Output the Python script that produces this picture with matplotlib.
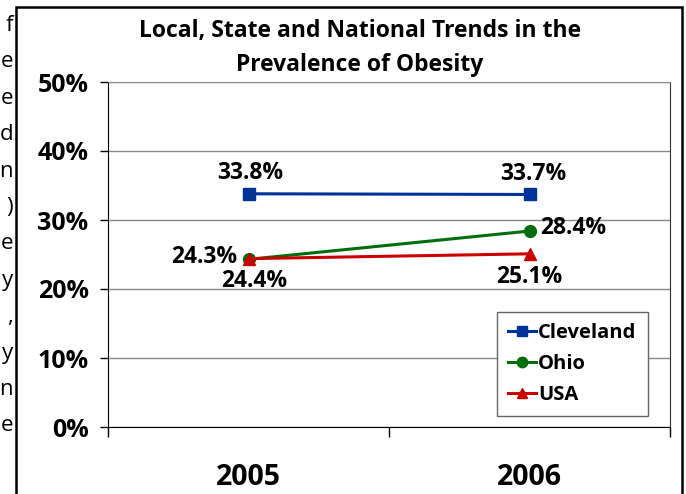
import matplotlib
matplotlib.use("Agg")
import matplotlib.pyplot as plt
from matplotlib.patches import Rectangle
from matplotlib.ticker import FixedLocator

plt.rcParams['font.family'] = ['Open Sans', 'DejaVu Sans']

# data
years = ["2005", "2006"]
cleveland = [33.8, 33.7]
ohio = [24.3, 28.4]
usa = [24.4, 25.1]
y_ticks = [0, 10, 20, 30, 40, 50]
y_tick_labels = ["0%", "10%", "20%", "30%", "40%", "50%"]
# letters of the cropped page text left of the chart
margin_letters = ["f", "e", "e", "d", "n", ")", "e", "y", ",", "y", "n", "e"]

W, H = 686, 494
fig = plt.figure(figsize=(W / 100, H / 100), dpi=100)

# outer frame of the embedded chart
fig.patches.append(Rectangle((16 / W, -0.05), (682 - 16) / W, 1.05 - 7 / H,
                             transform=fig.transFigure, fill=False,
                             edgecolor="black", linewidth=1.8))
for i, ch in enumerate(margin_letters):
    fig.text(13 / W, 1 - (31 + 36.4 * i) / H, ch, ha="right", va="baseline",
             fontsize=16, color="black")

fig.text(360 / W, 1 - 48 / H,
         "Local, State and National Trends in the\nPrevalence of Obesity",
         ha="center", va="center", fontsize=16.5, fontweight="bold",
         linespacing=1.6)

ax = fig.add_axes([108 / W, 1 - 427 / H, (670 - 108) / W, (427 - 82) / H])
x = [1, 2]
series = [
    ("Cleveland", cleveland, "#003399", "s"),
    ("Ohio", ohio, "#006E0A", "o"),
    ("USA", usa, "#CC0000", "^"),
]
for name, vals, col, mk in series:
    ax.plot(x, vals, color=col, marker=mk, markersize=8.5, linewidth=2.2,
            label=name, zorder=3)

ax.set_xlim(0.5, 2.5)
ax.set_ylim(0, 50)
ax.set_yticks(y_ticks)
ax.set_yticklabels(y_tick_labels)
ax.set_xticks(x)
ax.set_xticklabels(years)
ax.xaxis.set_minor_locator(FixedLocator([0.5, 1.5, 2.5]))
ax.tick_params(axis="x", which="major", length=0, pad=26, labelsize=20.5)
ax.tick_params(axis="x", which="minor", length=7, width=1, direction="out")
ax.tick_params(axis="y", length=6, width=1, direction="out", pad=8, labelsize=18)
for lab in ax.get_xticklabels() + ax.get_yticklabels():
    lab.set_fontweight("bold")

ax.grid(axis="y", color="#888888", linewidth=1)
ax.set_axisbelow(True)
ax.spines["top"].set_color("#888888")
ax.spines["right"].set_color("#333333")
ax.spines["left"].set_color("black")
ax.spines["bottom"].set_color("black")

# data labels (offsets in points)
labels = [
    (1, cleveland[0], "33.8%", (1.5, 15), "center"),
    (2, cleveland[1], "33.7%", (3, 15), "center"),
    (1, ohio[0], "24.3%", (-8, 2), "right"),
    (2, ohio[1], "28.4%", (8, 2.5), "left"),
    (1, usa[0], "24.4%", (4, -16), "center"),
    (2, usa[1], "25.1%", (0, -17), "center"),
]
for xv, yv, txt, off, ha in labels:
    ax.annotate(txt, (xv, yv), xytext=off, textcoords="offset points",
                ha=ha, va="center", fontsize=16.5, fontweight="bold")

leg = ax.legend(loc="upper left", bbox_to_anchor=(497 / W, 1 - 312 / H),
                bbox_transform=fig.transFigure, fancybox=False, framealpha=1,
                edgecolor="#666666", handlelength=1.4, handletextpad=0.1,
                borderpad=0.55, labelspacing=0.55, borderaxespad=0,
                prop={"weight": "bold", "size": 14.5})
leg.get_frame().set_linewidth(1)
for h in leg.legend_handles:
    h.set_markersize(7.5)

fig.savefig("out.png", dpi=100)
